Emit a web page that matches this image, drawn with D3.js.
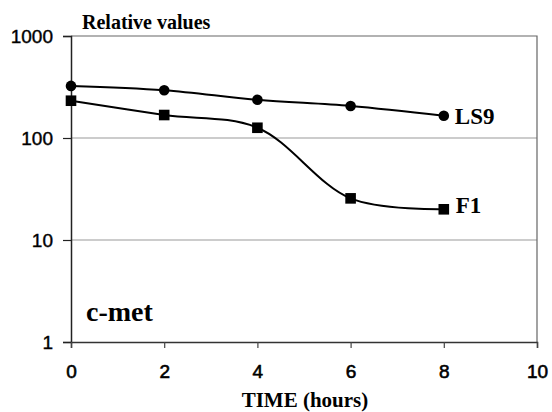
<!DOCTYPE html>
<html>
<head>
<meta charset="utf-8">
<script src="https://d3js.org/d3.v7.min.js"></script>
<style>
  body { margin: 0; background: #fff; }
  text { fill: #000; }
</style>
</head>
<body>
<svg id="chart" width="552" height="412"></svg>
<script>
// hours sampled
const hours = [0, 2, 4, 6, 8];
// relative values (log scale)
const ls9 = [324, 294, 237, 206, 165];
const f1 = [232, 168, 126, 25.6, 20];
const xTicks = [0, 2, 4, 6, 8, 10];
const yTicks = [1, 10, 100, 1000];

const svg = d3.select("#chart");
const plotL = 71, plotR = 537, plotT = 36, plotB = 342;

const x = d3.scaleLinear().domain([0, 10]).range([plotL, plotR]);
const y = d3.scaleLog().domain([1, 1000]).range([plotB, plotT]);

// gridlines at 10 and 100
svg.append("g").selectAll("line")
    .data([10, 100])
    .join("line")
    .attr("x1", plotL).attr("x2", plotR)
    .attr("y1", d => y(d)).attr("y2", d => y(d))
    .attr("stroke", "#999").attr("stroke-width", 1.2);

// frame top & right
svg.append("path")
    .attr("d", `M${plotL},${plotT}H${plotR}V${plotB}`)
    .attr("fill", "none").attr("stroke", "#666").attr("stroke-width", 1.2);

const sans = "Liberation Sans, Arial, sans-serif";

// y axis
const yAxis = svg.append("g")
    .attr("transform", `translate(${plotL},0)`)
    .call(d3.axisLeft(y).tickValues(yTicks).tickFormat(d3.format("d")).tickSize(8).tickPadding(10));
yAxis.select(".domain").attr("stroke", "#222").attr("stroke-width", 1.5);
yAxis.selectAll(".tick line").attr("stroke", "#222").attr("stroke-width", 1.2);
yAxis.selectAll("text")
    .attr("font-family", sans).attr("font-size", 19)
    .attr("fill", "#000").attr("stroke", "#000").attr("stroke-width", 0.4);

// x axis
const xAxis = svg.append("g")
    .attr("transform", `translate(0,${plotB})`)
    .call(d3.axisBottom(x).tickValues(xTicks).tickSize(6).tickPadding(17));
xAxis.select(".domain").attr("stroke", "#333").attr("stroke-width", 1.5);
xAxis.selectAll(".tick line").attr("stroke", "#444").attr("stroke-width", 1.2);
xAxis.selectAll("text")
    .attr("font-family", sans).attr("font-size", 19)
    .attr("fill", "#000").attr("stroke", "#000").attr("stroke-width", 0.6);

const line = d3.line()
    .x(d => x(d[0]))
    .y(d => y(d[1]))
    .curve(d3.curveCatmullRom.alpha(0.5));

const ls9Pts = hours.map((h, i) => [h, ls9[i]]);
const f1Pts = hours.map((h, i) => [h, f1[i]]);

svg.append("path").datum(ls9Pts).attr("d", line)
    .attr("fill", "none").attr("stroke", "#000").attr("stroke-width", 2);
svg.append("path").datum(f1Pts).attr("d", line)
    .attr("fill", "none").attr("stroke", "#000").attr("stroke-width", 2);

svg.append("g").selectAll("circle")
    .data(ls9Pts)
    .join("circle")
    .attr("cx", d => x(d[0])).attr("cy", d => y(d[1]))
    .attr("r", 5.3).attr("fill", "#000");

svg.append("g").selectAll("rect")
    .data(f1Pts)
    .join("rect")
    .attr("x", d => x(d[0]) - 5.3).attr("y", d => y(d[1]) - 5.3)
    .attr("width", 10.6).attr("height", 10.6).attr("fill", "#000");

const serif = "Liberation Serif, Times New Roman, serif";

svg.append("text")
    .attr("x", 82).attr("y", 29)
    .attr("font-family", serif).attr("font-weight", "bold").attr("font-size", 20)
    .text("Relative values");

svg.append("text")
    .attr("x", x(8) + 11).attr("y", y(ls9[4]) + 8)
    .attr("font-family", serif).attr("font-weight", "bold").attr("font-size", 23)
    .text("LS9");

svg.append("text")
    .attr("x", x(8) + 12).attr("y", y(f1[4]) + 4)
    .attr("font-family", serif).attr("font-weight", "bold").attr("font-size", 23)
    .text("F1");

svg.append("text")
    .attr("x", 86).attr("y", 321)
    .attr("font-family", serif).attr("font-weight", "bold").attr("font-size", 28)
    .text("c-met");

svg.append("text")
    .attr("x", 305).attr("y", 407)
    .attr("text-anchor", "middle")
    .attr("font-family", serif).attr("font-weight", "bold").attr("font-size", 21)
    .text("TIME (hours)");
</script>
</body>
</html>
